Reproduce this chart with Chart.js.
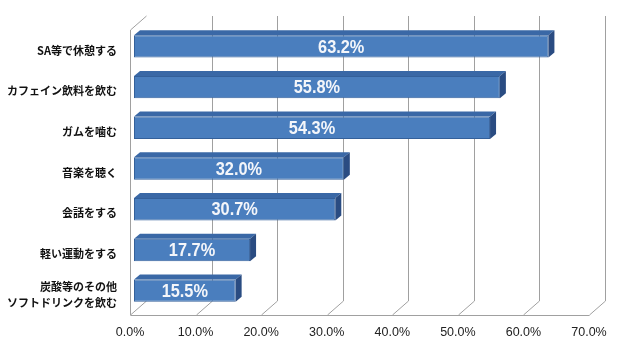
<!DOCTYPE html>
<html><head><meta charset="utf-8">
<script src="https://cdn.jsdelivr.net/npm/chart.js@4/dist/chart.umd.min.js"></script>
<style>html,body{margin:0;padding:0;background:#fff}#wrap{width:640px;height:351px}</style>
</head><body><div id="wrap"><canvas id="c" width="640" height="351"></canvas></div>
<script>
const categories = ['SA等で休憩する','カフェイン飲料を飲む','ガムを噛む','音楽を聴く','会話をする','軽い運動をする',['炭酸等のその他','ソフトドリンクを飲む']];
const values = [63.2, 55.8, 54.3, 32.0, 30.7, 17.7, 15.5];
const tickValues = [0,10,20,30,40,50,60,70];

const DX = 16, DY = -14;      // wall depth
const BX = 4, BY = -4;        // bar depth position
const SX = 6, SY = -5;        // bar thickness depth

const wallPlugin = {
  id: 'wall',
  beforeDatasetsDraw(chart) {
    const ctx = chart.ctx, xs = chart.scales.x, a = chart.chartArea;
    ctx.save();
    ctx.strokeStyle = '#a0a0a0';
    ctx.lineWidth = 1;
    ctx.beginPath();
    tickValues.forEach(v => {
      const fx = Math.round(xs.getPixelForValue(v)) + 0.5;
      const bx = fx + DX;
      if (v > 0) {
        ctx.moveTo(bx, a.top + DY);
        ctx.lineTo(bx, a.bottom + DY);
      }
      ctx.moveTo(fx, a.bottom);
      ctx.lineTo(bx, a.bottom + DY);
    });
    const l = Math.round(a.left) + 0.5;
    ctx.moveTo(l, a.bottom);
    ctx.lineTo(l, a.top);
    ctx.lineTo(l + DX, a.top + DY);
    ctx.moveTo(l, Math.round(a.bottom) + 0.5);
    ctx.lineTo(Math.round(xs.getPixelForValue(70)) + 0.5, Math.round(a.bottom) + 0.5);
    ctx.stroke();
    ctx.restore();
    ctx.save();
    ctx.translate(BX, BY);
  },
  afterDatasetsDraw(chart) {
    const ctx = chart.ctx;
    const meta = chart.getDatasetMeta(0);
    meta.data.forEach((bar, i) => {
      const x0 = bar.base, x1 = bar.x, yT = bar.y - bar.height / 2, yB = bar.y + bar.height / 2;
      ctx.fillStyle = '#3a68a6';
      ctx.beginPath();
      ctx.moveTo(x0, yT); ctx.lineTo(x0 + SX, yT + SY); ctx.lineTo(x1 + SX, yT + SY); ctx.lineTo(x1, yT); ctx.closePath();
      ctx.fill();
      ctx.fillStyle = '#2a4c82';
      ctx.beginPath();
      ctx.moveTo(x1, yT); ctx.lineTo(x1 + SX, yT + SY); ctx.lineTo(x1 + SX, yB + SY); ctx.lineTo(x1, yB); ctx.closePath();
      ctx.fill();
      ctx.save();
      ctx.translate((x0 + x1) / 2, bar.y + 1);
      ctx.scale(0.86, 1);
      ctx.fillStyle = '#f4f6fa';
      ctx.font = 'bold 19px "Liberation Sans", Arial, sans-serif';
      ctx.textAlign = 'center';
      ctx.textBaseline = 'middle';
      ctx.fillText(values[i].toFixed(1) + '%', 0, 0);
      ctx.restore();
    });
    ctx.restore();
  }
};

new Chart(document.getElementById('c'), {
  type: 'bar',
  data: {
    labels: categories,
    datasets: [{
      data: values,
      backgroundColor: '#4a7ebe',
      borderColor: '#34609a',
      borderWidth: 1,
      borderSkipped: false,
      barPercentage: 0.55,
      categoryPercentage: 1
    }]
  },
  options: {
    indexAxis: 'y',
    responsive: false,
    animation: false,
    events: [],
    layout: { padding: { top: 30, right: 51, left: 0, bottom: 0 } },
    plugins: { legend: { display: false }, tooltip: { enabled: false } },
    scales: {
      x: {
        min: 0, max: 70,
        afterFit: s => { s.height = 36; },
        afterBuildTicks: s => { s.ticks = tickValues.map(v => ({ value: v })); },
        grid: { display: false, drawTicks: false },
        border: { display: false },
        ticks: {
          padding: 10,
          color: '#222',
          font: { family: '"Liberation Sans", Arial, sans-serif', size: 12.5 },
          callback: v => Number(v).toFixed(1) + '%'
        }
      },
      y: {
        afterFit: s => { s.width = 130; },
        grid: { display: false, drawTicks: false },
        border: { display: false },
        ticks: {
          padding: 13,
          color: '#111',
          font: { family: '"Noto Sans CJK JP", sans-serif', size: 11, weight: 'bold', lineHeight: 1.45 }
        }
      }
    }
  },
  plugins: [wallPlugin]
});
</script></body></html>
